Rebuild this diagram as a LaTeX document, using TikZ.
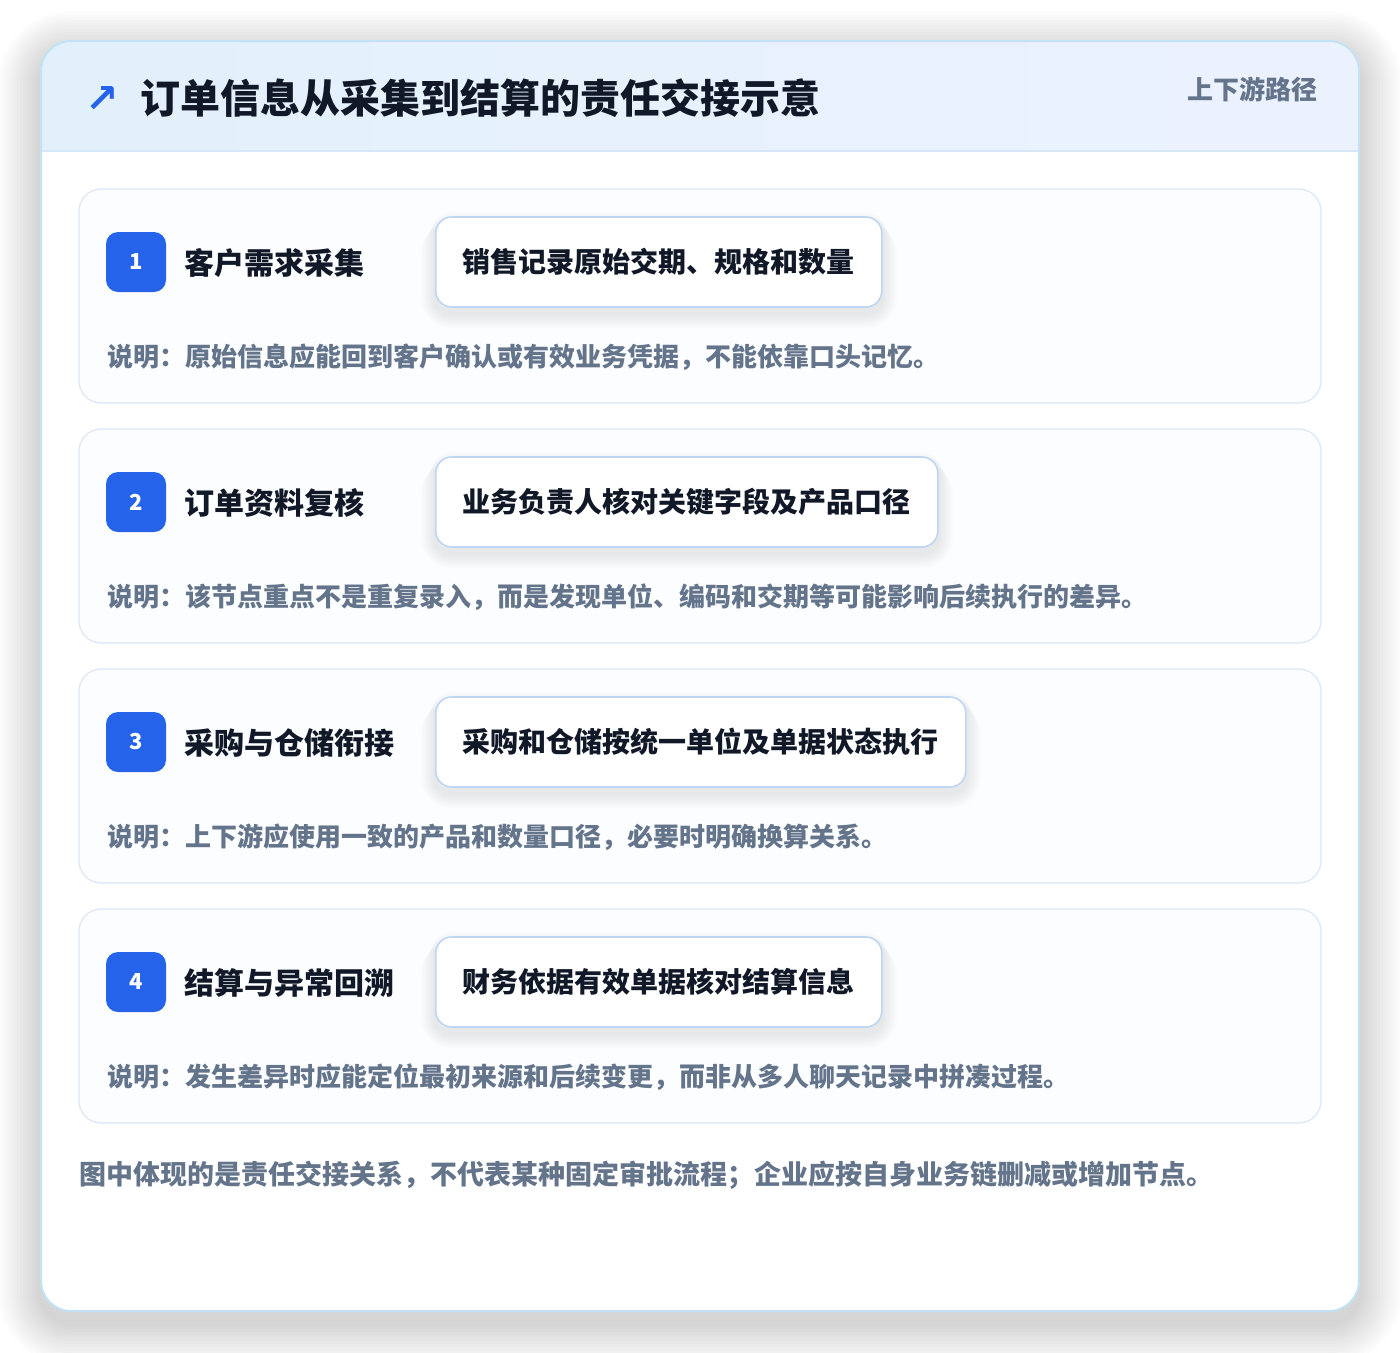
\documentclass[tikz,border=0pt]{standalone}
\usepackage{fontspec}
\setmainfont{Noto Sans CJK SC}
\newfontfamily\symfont{DejaVu Sans}
\usetikzlibrary{positioning}

\definecolor{ink}{HTML}{111827}
\definecolor{notegray}{HTML}{64748B}
\definecolor{badgeblue}{HTML}{2563EB}
\definecolor{frameline}{HTML}{C4E2F5}
\definecolor{headleft}{HTML}{E2F0FC}
\definecolor{headright}{HTML}{ECF2FD}
\definecolor{headrule}{HTML}{D6E8F7}
\definecolor{cardline}{HTML}{DCE9F6}
\definecolor{cardfill}{HTML}{FBFDFF}
\definecolor{boxline}{HTML}{BFD6F2}

\pgfdeclarelayer{back}
\pgfdeclarelayer{shadowlayer}
\pgfsetlayers{back,shadowlayer,main}

\tikzset{
	card/.style={draw=cardline, line width=1.3pt, fill=cardfill, rounded corners=22pt,
		minimum width=1242pt, minimum height=214pt, inner sep=0pt},
	badge/.style={fill=badgeblue, rounded corners=12pt, minimum size=60pt, inner sep=0pt,
		text=white, font=\fontsize{22}{26}\selectfont\bfseries},
	steptitle/.style={inner sep=0pt, text=ink, font=\fontsize{30}{36}\selectfont\bfseries},
	actbox/.style={draw=boxline, line width=1.6pt, fill=white, rounded corners=16pt,
		minimum height=90pt, inner xsep=27pt, text=ink, font=\fontsize{28}{34}\selectfont\bfseries},
	note/.style={inner sep=0pt, text=notegray, font=\fontsize{26}{30}\selectfont\bfseries},
	softshade/.style={fill=black, fill opacity=#1},
}

\begin{document}
\begin{tikzpicture}[x=1pt,y=-1pt]
	\useasboundingbox (0,0) rectangle (1400,1352);

	% frame shadow, frame and header
	\begin{pgfonlayer}{back}
		\fill[white] (0,0) rectangle (1400,1352);
		\foreach \k in {1,...,14}
			\fill[softshade=0.01, rounded corners={30+3*\k}]
				({41-3*\k},{53-3*\k}) rectangle ({1359+3*\k},{1323+3*\k});
		\fill[white, rounded corners=30pt] (41,41) rectangle (1359,1311);
		\begin{scope}
			\clip[rounded corners=30pt] (41,41) rectangle (1359,1311);
			\shade[left color=headleft, right color=headright] (41,41) rectangle (1359,151);
			\draw[headrule, line width=1.5pt] (41,151) -- (1359,151);
		\end{scope}
	\end{pgfonlayer}
	\draw[frameline, line width=2pt, rounded corners=30pt] (41,41) rectangle (1359,1311);

	\node[text=badgeblue, font=\symfont\bfseries\fontsize{40}{44}\selectfont, inner sep=0pt] (icon) at (102,99) {↗};
	\node[anchor=west, inner sep=0pt, text=ink, font=\fontsize{40}{48}\selectfont\bfseries] (title) at (140,98)
		{订单信息从采集到结算的责任交接示意};
	\node[anchor=east, inner sep=0pt, text=notegray, font=\fontsize{26}{30}\selectfont\bfseries] (route) at (1318,89)
		{上下游路径};

	% steps
	\foreach \i/\name/\act/\desc in {
		1/客户需求采集/销售记录原始交期、规格和数量/说明：原始信息应能回到客户确认或有效业务凭据，不能依靠口头记忆。,
		2/订单资料复核/业务负责人核对关键字段及产品口径/说明：该节点重点不是重复录入，而是发现单位、编码和交期等可能影响后续执行的差异。,
		3/采购与仓储衔接/采购和仓储按统一单位及单据状态执行/说明：上下游应使用一致的产品和数量口径，必要时明确换算关系。,
		4/结算与异常回溯/财务依据有效单据核对结算信息/说明：发生差异时应能定位最初来源和后续变更，而非从多人聊天记录中拼凑过程。}
	{
		\begin{pgfonlayer}{back}
			\node[card] (card\i) at (700,{296+240*(\i-1)}) {};
		\end{pgfonlayer}
		\node[badge] (badge\i) at (136,{262+240*(\i-1)}) {\i};
		\node[steptitle, anchor=west] (name\i) at (184,{263+240*(\i-1)}) {\name};
		\node[actbox, anchor=west] (act\i) at (435,{262+240*(\i-1)}) {\act};
		\node[note, anchor=west] (note\i) at (107,{357+240*(\i-1)}) {\desc};
		\begin{pgfonlayer}{shadowlayer}
			\foreach \k in {1,...,7}
				\fill[softshade=0.012, rounded corners={16+2*\k}]
					([xshift={-2*\k}, yshift={6-2*\k}]act\i.north west) rectangle ([xshift={2*\k}, yshift={-6-2*\k}]act\i.south east);
		\end{pgfonlayer}
	}

	\node[note, anchor=west, font=\fontsize{27}{32}\selectfont\bfseries] (footer) at (79,1175)
		{图中体现的是责任交接关系，不代表某种固定审批流程；企业应按自身业务链删减或增加节点。};
\end{tikzpicture}
\end{document}
